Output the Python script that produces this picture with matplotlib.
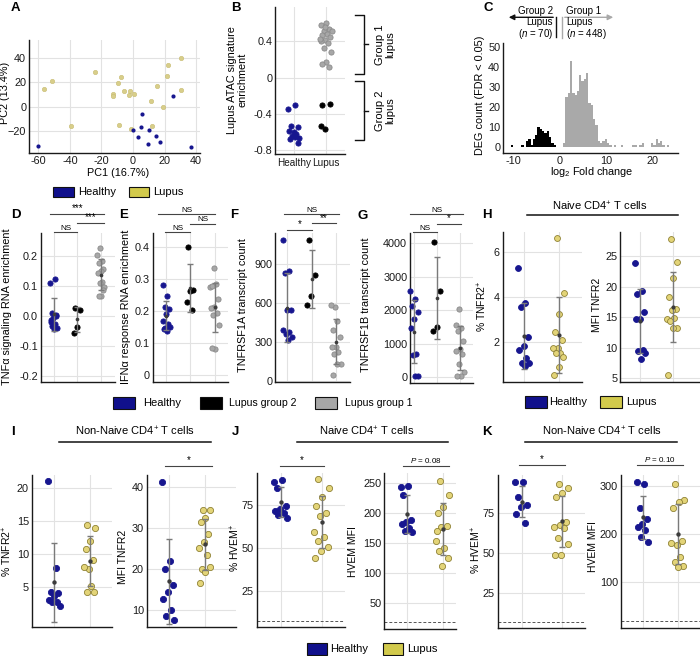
import numpy as np
import matplotlib
matplotlib.use('Agg')
import matplotlib.pyplot as plt
from matplotlib.patches import Rectangle, FancyArrowPatch
from matplotlib.lines import Line2D
import matplotlib.transforms as mtransforms

plt.rcParams['font.family'] = ['Liberation Sans', 'DejaVu Sans']
plt.rcParams['mathtext.fontset'] = 'custom'
plt.rcParams['mathtext.rm'] = 'Liberation Sans'
plt.rcParams['mathtext.it'] = 'Liberation Sans:italic'
plt.rcParams['mathtext.bf'] = 'Liberation Sans:bold'

# ---------------- DATA ----------------
# A: PCA
pca_healthy_pc1 = [-60, 6, 25.1, 0.1, 5, 3.1, 10, 14.3, 9.4, 16.9, 37]
pca_healthy_pc2 = [-32.3, -5.8, 9, -18.9, -16.7, -25.2, -19.2, -23.8, -31, -29.3, -33.4]
pca_lupus_pc1 = [-56.6, -51.3, -39.6, -24.1, -7.8, -9.7, -12.4, -12.4, -5.6, -2.2, -2.5, 0.5,
                 -9, -1.4, 11.3, 12, 15, 19, 21.3, 22.2, 30.2, 30.2]
pca_lupus_pc2 = [14.8, 21.4, -16.2, 28.5, 24.1, 19.5, 10.7, 9.0, 13.2, 13.2, 9.9, 10.4,
                 -15.3, -18, 4.7, -15.6, 17.3, -0.5, 25, 34.2, 40, 13.4]
# B: ATAC signature enrichment
atac_healthy = [-0.345, -0.30, -0.536, -0.547, -0.594, -0.587, -0.624, -0.638, -0.668, -0.65, -0.672, -0.716]
atac_lupus_g2 = [-0.297, -0.29, -0.56, -0.528]
atac_lupus_g1 = [0.602, 0.583, 0.54, 0.517, 0.517, 0.48, 0.466, 0.444, 0.415, 0.407, 0.378,
                 0.33, 0.286, 0.176, 0.147, 0.114, 0.56, 0.43]
group_brace_ranges = {'Group 1\nlupus': (0.69, 0.047), 'Group 2\nlupus': (-0.037, -0.687)}
# C: DEG histogram (log2 fold change bin centers / counts)
deg_g2_bins = [-10.25, -8.0, -7.0, -6.5, -6.0, -5.5, -5.0, -4.5, -4.0, -3.5, -3.0, -2.5, -2.0, -1.5, -1.0]
deg_g2_counts = [1, 1, 3, 4, 1, 4, 6, 10, 9, 8, 7, 8, 5, 2, 1]
deg_g1_bins = [1.0, 1.5, 2.0, 2.5, 3.0, 3.5, 4.0, 4.5, 5.0, 5.5, 6.0, 6.5, 7.0, 7.5, 8.0, 8.5, 9.0, 9.5, 10.0,
               10.5, 11.0, 12.0, 13.5, 16.0, 16.5, 17.5, 18.0, 20.0, 20.5, 21.0, 21.5, 22.0, 22.5, 23.5]
deg_g1_counts = [2, 25, 27, 43, 27, 26, 28, 36, 33, 34, 37, 22, 21, 14, 11, 3, 2, 3, 4,
                 2, 1, 1, 1, 1, 1, 1, 2, 2, 1, 4, 2, 3, 1, 1]
# D: TNFa signaling RNA enrichment
tnf_healthy = [0.110, 0.124, 0.011, 0.001, -0.006, -0.020, -0.027, -0.033, -0.039, -0.043, -0.013, 0.004]
tnf_g2 = [0.027, 0.021, -0.036, -0.058]
tnf_g1 = [0.226, 0.205, 0.184, 0.177, 0.157, 0.149, 0.144, 0.113, 0.111, 0.097, 0.066, 0.066, 0.088]
# E: IFNa response RNA enrichment
ifn_healthy = [0.281, 0.248, 0.215, 0.207, 0.193, 0.17, 0.16, 0.148, 0.15, 0.14, 0.144]
ifn_g2 = [0.40, 0.268, 0.265, 0.23, 0.204]
ifn_g1 = [0.334, 0.276, 0.285, 0.279, 0.24, 0.213, 0.21, 0.195, 0.189, 0.158, 0.082, 0.085]
# F: TNFRSF1A transcript count
tnfr1_healthy = [1082, 845, 830, 545, 545, 395, 375, 365, 340, 315]
tnfr1_g2 = [1085, 815, 654, 585]
tnfr1_g1 = [572, 585, 464, 397, 341, 264, 264, 226, 213, 136, 136, 46]
# G: TNFRSF1B transcript count
tnfr2_healthy = [2574, 2346, 2128, 1940, 1733, 1465, 693, 643, 30, 30]
tnfr2_g2 = [4030, 2574, 1485, 1366]
tnfr2_g1 = [2030, 1564, 1480, 1386, 1089, 842, 772, 693, 376, 139, 40, 40]
# H: naive CD4 TNFR2
h_pct_healthy = [5.30, 3.71, 3.56, 2.22, 1.82, 1.63, 1.29, 1.06, 1.03, 0.93]
h_pct_lupus = [6.61, 4.16, 3.22, 2.43, 2.07, 1.73, 1.72, 1.52, 1.48, 1.33, 0.88, 0.5]
h_mfi_healthy = [23.9, 19.4, 18.8, 15.8, 14.7, 14.8, 9.7, 9.5, 9.1, 8.1]
h_mfi_lupus = [27.9, 24.1, 21.5, 18.4, 16.4, 16.2, 14.8, 14.9, 14.4, 13.3, 13.2, 5.5]
# I: non-naive CD4 TNFR2
i_pct_healthy = [20.95, 7.9, 4.3, 4.1, 3.6, 3.0, 2.7, 2.7, 2.2]
i_pct_lupus = [14.3, 13.9, 12.0, 10.8, 9.1, 7.8, 8.1, 5.2, 4.3, 4.3]
i_mfi_healthy = [41.2, 22.0, 20.0, 16.1, 14.5, 12.8, 10.1, 8.5, 7.7]
i_mfi_lupus = [34.2, 34.2, 32.3, 31.5, 28.5, 26.6, 25.0, 23.4, 20.0, 20.5, 19.3, 16.6]
# J: naive CD4 HVEM
j_pct_healthy = [88.6, 89.3, 85.1, 74.4, 72.7, 71.7, 70.5, 69.2, 67.6]
j_pct_lupus = [89.9, 84.7, 79.7, 74.4, 70.5, 68.8, 59.3, 56.6, 53.9, 50.4, 48.3, 44.4]
j_mfi_healthy = [243.3, 244.4, 228.9, 187.8, 184.4, 181.1, 173.9, 170, 168]
j_mfi_lupus = [252.8, 229.4, 208.9, 198.9, 177.8, 175.6, 152.8, 140.6, 136.7, 123.9, 111.7, 170]
# K: non-naive CD4 HVEM
k_pct_healthy = [94.2, 93.8, 84.7, 79.8, 78.5, 74, 68.4]
k_pct_lupus = [92.8, 90.5, 87.4, 84.9, 69.4, 67.4, 66.3, 65.7, 59.1, 55.4, 48.8, 48.8]
k_mfi_healthy = [307.5, 303.4, 255, 231, 220, 215, 208, 193, 182.7]
k_mfi_lupus = [303.4, 271, 266, 254, 186, 176, 181, 152, 142, 132, 130]
# isotype / background thresholds (dashed lines)
j_pct_thresh, j_mfi_thresh, k_pct_thresh, k_mfi_thresh = 7.7, 18.3, 7.4, 18.4

# ---------------- STYLE ----------------
NAVY = '#17168f'
LUP_A = '#d8ce8a'
LUP = '#e3d478'
LUP_EDGE = '#8f8235'
GRAY = '#a7a7a7'
GRAY_EDGE = '#8a8a8a'
BLACK = '#000000'
TICK_FS = 7.8
LAB_FS = 7.8

W, H = 700, 656
fig = plt.figure(figsize=(7, 6.56), dpi=100)


def fx(x):
    return x / W


def fy(y):
    return 1 - y / H


def add_ax(rect):
    l, t, r, b = rect
    return fig.add_axes([l / W, 1 - b / H, (r - l) / W, (b - t) / H])


def style(ax, xlim, ylim, yticks, yticklabels=None, xticks=(), xticklabels=None, grid=True, fs=TICK_FS):
    ax.set_xlim(*xlim)
    ax.set_ylim(*ylim)
    ax.set_yticks(yticks)
    if yticklabels is not None:
        ax.set_yticklabels(yticklabels)
    ax.set_xticks(list(xticks))
    ax.set_xticklabels(xticklabels if xticklabels is not None else [])
    for s in ['top', 'right']:
        ax.spines[s].set_visible(False)
    for s in ['left', 'bottom']:
        ax.spines[s].set_color('#1a1a1a')
        ax.spines[s].set_linewidth(1.0)
    ax.tick_params(length=0, labelsize=fs, pad=2, colors='#1a1a1a')
    if grid:
        ax.grid(True, color='#e2e2e2', lw=0.8)
        ax.set_axisbelow(True)
    ax.set_facecolor('none')


def ylab(ax, rect, text, xpx, ypx=None, fs=LAB_FS, ls=1.0):
    l, t, r, b = rect
    if ypx is None:
        ypx = (t + b) / 2
    ax.set_ylabel(text, fontsize=fs, linespacing=ls)
    ax.yaxis.label.set_va('center')
    ax.yaxis.label.set_ha('center')
    ax.yaxis.set_label_coords((xpx - l) / (r - l), (b - ypx) / (b - t))


def xlab(ax, rect, text, xpx, ypx, fs=LAB_FS):
    l, t, r, b = rect
    ax.set_xlabel(text, fontsize=fs)
    ax.xaxis.label.set_va('center')
    ax.xaxis.set_label_coords((xpx - l) / (r - l), (b - ypx) / (b - t))


def jitter(n, w, phase=0.0):
    return ((np.arange(n) * 0.618034 + phase) % 1.0 - 0.5) * 2 * w


def strip(ax, pos, vals, face, edge, s, w, stats=True, phase=0.0, alpha=1.0):
    v = np.asarray(vals, float)
    ax.scatter(pos + jitter(len(v), w, phase), v, s=s, c=face, edgecolors=edge,
               linewidths=0.6, zorder=3, clip_on=False, alpha=alpha)
    if stats:
        m = v.mean()
        sd = v.std(ddof=1)
        ax.errorbar([pos], [m], yerr=[sd], fmt='none', ecolor='#7a7a7a', elinewidth=1.0,
                    capsize=2.5, capthick=1.0, zorder=4)
        ax.scatter([pos], [m], s=s * 0.5, c='#3c3c3c', zorder=5, linewidths=0)


def sig(ax, x1, x2, ypx, text, fs=5.8):
    tr = mtransforms.blended_transform_factory(ax.transData, fig.transFigure)
    fig.add_artist(Line2D([x1, x2], [fy(ypx), fy(ypx)], transform=tr, color='#444444', lw=0.8))
    fig.text((x1 + x2) / 2, fy(ypx - 0.5), text, transform=tr, ha='center', va='bottom', fontsize=fs)


def legend_item(x0, y0, w, h, color, label, tx, fs=8):
    fig.add_artist(Rectangle((fx(x0), fy(y0 + h)), w / W, h / H, transform=fig.transFigure,
                             facecolor=color, edgecolor='#111111', lw=0.8))
    fig.text(fx(tx), fy(y0 + h / 2), label, ha='left', va='center', fontsize=fs)


def letter(x, y, s):
    fig.text(fx(x), fy(y), s, ha='left', va='top', fontsize=9.5, fontweight='bold')


def title_bar(xc, ytext, x1, x2, yline, text):
    fig.text(fx(xc), fy(ytext), text, ha='center', va='center', fontsize=8)
    fig.add_artist(Line2D([fx(x1), fx(x2)], [fy(yline), fy(yline)], transform=fig.transFigure,
                          color='#111111', lw=1.1))


# ---------------- A ----------------
rA = (29, 40, 200, 153)
axA = add_ax(rA)
style(axA, (-66, 42.5), (-38, 54.8), [-20, 0, 20, 40], xticks=[-60, -40, -20, 0, 20, 40],
      xticklabels=['-60', '-40', '-20', '0', '20', '40'])
axA.scatter(pca_lupus_pc1, pca_lupus_pc2, s=10, c=LUP_A, edgecolors='#c7bb72', linewidths=0.4, zorder=3)
axA.scatter(pca_healthy_pc1, pca_healthy_pc2, s=9, c=NAVY, linewidths=0, zorder=3)
ylab(axA, rA, 'PC2 (13.4%)', 5, 93)
xlab(axA, rA, 'PC1 (16.7%)', 118, 173)
legend_item(53, 187, 21, 10, '#10108c', 'Healthy', 78)
legend_item(129, 187, 20, 10, '#d2ca4c', 'Lupus', 153)

# ---------------- B ----------------
rB = (275, 7, 345, 154)
axB = add_ax(rB)
style(axB, (0.41, 2.59), (-0.84, 0.78), [-0.8, -0.4, 0, 0.4], ['-0.8', '-0.4', '0', '0.4'],
      xticks=[1, 2], xticklabels=['Healthy', 'Lupus'])
axB.tick_params(axis='x', pad=3, labelsize=7.2)
strip(axB, 1, atac_healthy, NAVY, NAVY, 14, 0.19, stats=False)
strip(axB, 2, atac_lupus_g2, BLACK, BLACK, 14, 0.19, stats=False, phase=0.2)
strip(axB, 2, atac_lupus_g1, GRAY, GRAY_EDGE, 14, 0.19, stats=False, phase=0.5)
ylab(axB, rB, 'Lupus ATAC signature\nenrichment', 237, 80)
trB = mtransforms.blended_transform_factory(fig.transFigure, axB.transData)
for txt, (ytop, ybot) in group_brace_ranges.items():
    ym = (ytop + ybot) / 2
    fig.add_artist(Line2D([fx(355), fx(364), fx(364), fx(355)], [ytop, ytop, ybot, ybot],
                          transform=trB, color='#111111', lw=1.0))
    fig.add_artist(Line2D([fx(364), fx(368)], [ym, ym], transform=trB, color='#111111', lw=1.0))
    fig.text(fx(385), ym, txt, transform=trB, rotation=90, ha='center', va='center',
             fontsize=8, linespacing=1.0)
letter(231, 2, 'B')

# ---------------- C ----------------
rC = (503, 43, 678, 153)
axC = add_ax(rC)
style(axC, (-12.2, 25.6), (-3.2, 51.8), [0, 10, 20, 30, 40, 50], xticks=[-10, 0, 10, 20],
      xticklabels=['-10', '0', '10', '20'], grid=False)
axC.bar(deg_g2_bins, deg_g2_counts, width=0.5, color=BLACK, linewidth=0)
axC.bar(deg_g1_bins, deg_g1_counts, width=0.5, color='#a9a9a9', linewidth=0)
ylab(axC, rC, 'DEG count (FDR < 0.05)', 480, 95)
xlab(axC, rC, 'log$_2$ Fold change', 592, 172)
fig.add_artist(FancyArrowPatch((fx(556), fy(17.3)), (fx(506), fy(17.3)), transform=fig.transFigure,
                               arrowstyle='-|>', mutation_scale=8, color='#111111', lw=1.0))
fig.add_artist(Line2D([fx(556), fx(556)], [fy(17.3), fy(37)], transform=fig.transFigure, color='#111111', lw=1.0))
fig.add_artist(FancyArrowPatch((fx(562), fy(17.3)), (fx(616), fy(17.3)), transform=fig.transFigure,
                               arrowstyle='-|>', mutation_scale=8, color='#a9a9a9', lw=1.0))
fig.add_artist(Line2D([fx(562), fx(562)], [fy(17.3), fy(38)], transform=fig.transFigure, color='#a9a9a9', lw=1.0))
fig.text(fx(553), fy(16), 'Group 2', ha='right', va='bottom', fontsize=7)
fig.text(fx(553), fy(29), 'Lupus\n($\\it{n}$ = 70)', ha='right', va='center', fontsize=7, linespacing=1.05)
fig.text(fx(566), fy(16), 'Group 1', ha='left', va='bottom', fontsize=7)
fig.text(fx(566), fy(29), 'Lupus\n($\\it{n}$ = 448)', ha='left', va='center', fontsize=7, linespacing=1.05)

# ---------------- D ----------------
rD = (40.7, 233, 115, 382)
axD = add_ax(rD)
style(axD, (0.45, 3.6), (-0.221, 0.277), [-0.2, -0.1, 0, 0.1, 0.2], ['-0.2', '-0.1', '0.0', '0.1', '0.2'],
      xticks=[1, 2, 3])
strip(axD, 1, tnf_healthy, NAVY, NAVY, 14, 0.15)
strip(axD, 2, tnf_g2, BLACK, BLACK, 14, 0.15, phase=0.2)
strip(axD, 3, tnf_g1, GRAY, GRAY_EDGE, 14, 0.15, phase=0.4)
ylab(axD, rD, 'TNFα signaling RNA enrichment', 7, 307)
sig(axD, 0.86, 3.15, 214, '***', fs=7)
sig(axD, 2.0, 3.15, 223, '***', fs=7)
sig(axD, 1.0, 2.0, 232, 'NS')

# ---------------- E ----------------
rE = (152.7, 233, 228, 382)
axE = add_ax(rE)
style(axE, (0.43, 3.56), (-0.021, 0.445), [0, 0.1, 0.2, 0.3, 0.4], ['0', '0.1', '0.2', '0.3', '0.4'],
      xticks=[1, 2, 3])
strip(axE, 1, ifn_healthy, NAVY, NAVY, 14, 0.15)
strip(axE, 2, ifn_g2, BLACK, BLACK, 14, 0.15, phase=0.2)
strip(axE, 3, ifn_g1, GRAY, GRAY_EDGE, 14, 0.2, phase=0.4)
ylab(axE, rE, 'IFNα response RNA enrichment', 126, 307)
sig(axE, 0.67, 3.0, 214, 'NS')
sig(axE, 2.0, 3.0, 223.7, 'NS')
sig(axE, 0.93, 2.0, 232, 'NS')

# ---------------- F ----------------
rF = (275, 233, 350, 382)
axF = add_ax(rF)
style(axF, (0.49, 3.58), (-5, 1138), [0, 300, 600, 900], xticks=[1, 2, 3])
strip(axF, 1, tnfr1_healthy, NAVY, NAVY, 14, 0.2)
strip(axF, 2, tnfr1_g2, BLACK, BLACK, 14, 0.2, phase=0.2)
strip(axF, 3, tnfr1_g1, GRAY, GRAY_EDGE, 14, 0.22, phase=0.4)
ylab(axF, rF, 'TNFRSF1A transcript count', 243, 305)
sig(axF, 0.88, 3.14, 214, 'NS')
sig(axF, 2.0, 3.0, 223.3, '**', fs=7)
sig(axF, 1.0, 2.0, 230, '*', fs=7)

# ---------------- G ----------------
rG = (410, 233, 473, 383)
axG = add_ax(rG)
style(axG, (0.81, 3.57), (-180, 4308), [0, 1000, 2000, 3000, 4000], xticks=[1, 2, 3])
strip(axG, 1, tnfr2_healthy, NAVY, NAVY, 14, 0.2)
strip(axG, 2, tnfr2_g2, BLACK, BLACK, 14, 0.2, phase=0.2)
strip(axG, 3, tnfr2_g1, GRAY, GRAY_EDGE, 14, 0.2, phase=0.4)
ylab(axG, rG, 'TNFRSF1B transcript count', 366, 305)
sig(axG, 0.81, 3.14, 214, 'NS')
sig(axG, 2.0, 3.06, 224, '*', fs=7)
sig(axG, 0.96, 2.0, 232, 'NS')

legend_item(113, 397, 22, 12, '#10108c', 'Healthy', 143)
legend_item(200, 397, 22, 12, BLACK, 'Lupus group 2', 229, fs=7.6)
legend_item(315, 397, 22, 12, GRAY, 'Lupus group 1', 345, fs=7.6)

# ---------------- H ----------------
title_bar(600, 206, 527, 678, 215, 'Naive CD4$^{+}$ T cells')
rH1 = (502.7, 232, 581.7, 382.3)
axH1 = add_ax(rH1)
style(axH1, (0.39, 2.65), (0.19, 6.9), [2, 4, 6], xticks=[1, 2])
strip(axH1, 1, h_pct_healthy, NAVY, NAVY, 18, 0.17)
strip(axH1, 2, h_pct_lupus, LUP, LUP_EDGE, 18, 0.17, phase=0.3)
ylab(axH1, rH1, '% TNFR2$^{+}$', 482, 306, fs=7.5)
rH2 = (620, 232, 700, 382)
axH2 = add_ax(rH2)
style(axH2, (0.37, 2.84), (4.4, 29), [5, 10, 15, 20, 25], xticks=[1, 2])
strip(axH2, 1, h_mfi_healthy, NAVY, NAVY, 18, 0.17)
strip(axH2, 2, h_mfi_lupus, LUP, LUP_EDGE, 18, 0.17, phase=0.3)
ylab(axH2, rH2, 'MFI TNFR2', 597, 305, fs=7.5)
legend_item(525, 396, 22, 12, '#10108c', 'Healthy', 549)
legend_item(600, 396, 22, 12, '#d2ca4c', 'Lupus', 626)

# ---------------- I ----------------
title_bar(135, 431, 59, 211, 441.7, 'Non-Naive CD4$^{+}$ T cells')
rI1 = (31.7, 475, 111.7, 627)
axI1 = add_ax(rI1)
style(axI1, (0.37, 2.61), (-1.0, 21.9), [5, 10, 15, 20], xticks=[1, 2])
strip(axI1, 1, i_pct_healthy, NAVY, NAVY, 20, 0.17)
strip(axI1, 2, i_pct_lupus, LUP, LUP_EDGE, 20, 0.17, phase=0.3)
ylab(axI1, rI1, '% TNFR2$^{+}$', 7, 551, fs=7.5)
rI2 = (146.7, 475, 236, 627)
axI2 = add_ax(rI2)
style(axI2, (0.4, 2.85), (5.9, 42.8), [10, 20, 30, 40], xticks=[1, 2])
strip(axI2, 1, i_mfi_healthy, NAVY, NAVY, 20, 0.17)
strip(axI2, 2, i_mfi_lupus, LUP, LUP_EDGE, 20, 0.17, phase=0.3)
ylab(axI2, rI2, 'MFI TNFR2', 123, 557, fs=7.5)
sig(axI2, 0.91, 2.19, 465.7, '*', fs=7)

# ---------------- J ----------------
title_bar(366.7, 431.7, 296.7, 448.3, 442.3, 'Naive CD4$^{+}$ T cells')
rJ1 = (256.7, 473, 345, 626.7)
axJ1 = add_ax(rJ1)
style(axJ1, (0.41, 2.57), (4.2, 93.6), [25, 50, 75], xticks=[1, 2])
axJ1.axhline(j_pct_thresh, color='#555555', lw=0.7, ls=(0, (3, 2)), zorder=2)
strip(axJ1, 1, j_pct_healthy, NAVY, NAVY, 20, 0.17)
strip(axJ1, 2, j_pct_lupus, LUP, LUP_EDGE, 20, 0.2, phase=0.3)
ylab(axJ1, rJ1, '% HVEM$^{+}$', 235, 548, fs=7.5)
sig(axJ1, 0.97, 2.06, 465.7, '*', fs=7)
rJ2 = (384.3, 473, 456, 629)
axJ2 = add_ax(rJ2)
style(axJ2, (0.38, 2.37), (6.2, 266), [50, 100, 150, 200, 250], xticks=[1, 2])
axJ2.axhline(j_mfi_thresh, color='#555555', lw=0.7, ls=(0, (3, 2)), zorder=2)
strip(axJ2, 1, j_mfi_healthy, NAVY, NAVY, 20, 0.17)
strip(axJ2, 2, j_mfi_lupus, LUP, LUP_EDGE, 20, 0.2, phase=0.3)
ylab(axJ2, rJ2, 'HVEM MFI', 353, 552, fs=7.5)
sig(axJ2, 0.89, 2.18, 465.7, '$\\it{P}$ = 0.08', fs=5.8)

# ---------------- K ----------------
title_bar(601.7, 431.7, 525, 676.7, 441.7, 'Non-Naive CD4$^{+}$ T cells')
rK1 = (497.7, 475, 585, 628.3)
axK1 = add_ax(rK1)
style(axK1, (0.4, 2.58), (3.3, 98.4), [25, 50, 75], xticks=[1, 2])
axK1.axhline(k_pct_thresh, color='#555555', lw=0.7, ls=(0, (3, 2)), zorder=2)
strip(axK1, 1, k_pct_healthy, NAVY, NAVY, 20, 0.17)
strip(axK1, 2, k_pct_lupus, LUP, LUP_EDGE, 20, 0.2, phase=0.3)
ylab(axK1, rK1, '% HVEM$^{+}$', 476, 550, fs=7.5)
sig(axK1, 0.92, 2.08, 465, '*', fs=7)
rK2 = (620.7, 475, 700, 628.3)
axK2 = add_ax(rK2)
style(axK2, (0.38, 2.61), (2.5, 323), [100, 200, 300], xticks=[1, 2])
axK2.axhline(k_mfi_thresh, color='#555555', lw=0.7, ls=(0, (3, 2)), zorder=2)
strip(axK2, 1, k_mfi_healthy, NAVY, NAVY, 20, 0.17)
strip(axK2, 2, k_mfi_lupus, LUP, LUP_EDGE, 20, 0.2, phase=0.3)
ylab(axK2, rK2, 'HVEM MFI', 593, 547, fs=7.5)
sig(axK2, 0.83, 2.12, 465, '$\\it{P}$ = 0.10', fs=5.8)

legend_item(307, 643, 20, 12, '#10108c', 'Healthy', 330)
legend_item(383, 643, 20, 12, '#d2ca4c', 'Lupus', 407)

# ---------------- panel letters ----------------
letter(11, 2, 'A')
letter(484, 2, 'C')
letter(11, 209, 'D')
letter(119, 209, 'E')
letter(230, 209, 'F')
letter(358, 210, 'G')
letter(482, 209, 'H')
letter(11, 426, 'I')
letter(232, 426, 'J')
letter(482, 426, 'K')

fig.savefig('out.png', dpi=100)
